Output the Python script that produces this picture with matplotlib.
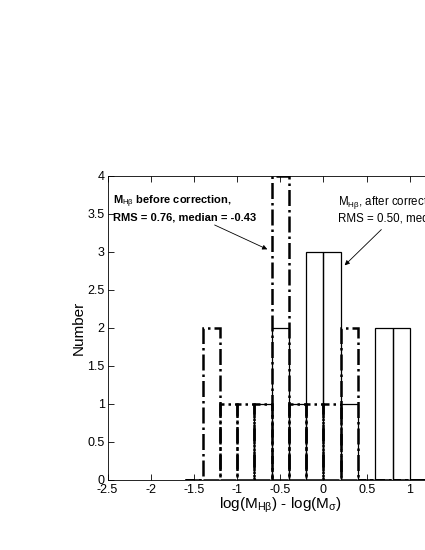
"""Histogram of log(M_Hb) - log(M_sigma) before and after correction."""

import matplotlib.pyplot as plt
import numpy as np

plt.rcParams.update(
    {
        "font.family": ["Liberation Sans", "DejaVu Sans"],
        "mathtext.fontset": "custom",
        "mathtext.rm": "Liberation Sans",
        "mathtext.it": "Liberation Sans",
        "mathtext.bf": "Liberation Sans:bold",
    }
)

# bin centres (width 0.2) and counts
BIN_CENTERS = [-1.5, -1.3, -1.1, -0.9, -0.7, -0.5, -0.3, -0.1, 0.1, 0.3, 0.5, 0.7, 0.9, 1.1, 1.3]
COUNTS_BEFORE = [0, 2, 1, 1, 1, 4, 1, 1, 1, 2, 0, 0, 0, 0, 0]
COUNTS_AFTER = [0, 0, 0, 0, 1, 2, 1, 3, 3, 1, 0, 2, 2, 0, 0]
BIN_WIDTH = 0.2

X_TICKS = [-2.5, -2, -1.5, -1, -0.5, 0, 0.5, 1]
X_TICK_LABELS = ["-2.5", "-2", "-1.5", "-1", "-0.5", "0", "0.5", "1"]
Y_TICKS = [0, 0.5, 1, 1.5, 2, 2.5, 3, 3.5, 4]
Y_TICK_LABELS = ["0", "0.5", "1", "1.5", "2", "2.5", "3", "3.5", "4"]


def main() -> None:
    fig = plt.figure(figsize=(4.25, 5.5), dpi=100)
    fig.patch.set_facecolor("white")
    ax = fig.add_axes([0.253, 0.1273, 0.813, 0.5536])

    ax.bar(
        BIN_CENTERS,
        COUNTS_BEFORE,
        width=BIN_WIDTH,
        fill=False,
        edgecolor="black",
        linewidth=1.8,
        linestyle="-.",
        zorder=2,
    )
    ax.bar(
        BIN_CENTERS,
        COUNTS_AFTER,
        width=BIN_WIDTH,
        fill=False,
        edgecolor="black",
        linewidth=0.9,
        linestyle="-",
        zorder=3,
    )

    ax.set_xlim(-2.5, 1.5)
    ax.set_ylim(0, 4)
    ax.set_xticks(X_TICKS)
    ax.set_xticklabels(X_TICK_LABELS)
    ax.set_yticks(Y_TICKS)
    ax.set_yticklabels(Y_TICK_LABELS)
    ax.tick_params(direction="in", length=4, width=0.6, labelsize=9,
                   top=True, right=True, pad=2)
    ax.tick_params(axis="x", pad=3)
    for spine in ax.spines.values():
        spine.set_linewidth(0.6)

    ax.set_ylabel("Number", fontsize=11, labelpad=1)
    ax.set_xlabel(r"log(M$_{\mathrm{H\beta}}$) - log(M$_{\sigma}$)", fontsize=11, labelpad=0)

    ax.text(-2.44, 3.65, r"M$_{\mathrm{H\beta}}$ before correction,", fontsize=8,
            weight="bold", va="center", ha="left")
    ax.text(-2.44, 3.45, "RMS = 0.76, median = -0.43", fontsize=8,
            weight="bold", va="center", ha="left")
    ax.annotate("", xy=(-0.65, 3.03), xytext=(-1.26, 3.35),
                arrowprops=dict(arrowstyle="-|>", color="black", lw=0.6,
                                mutation_scale=7, shrinkA=0, shrinkB=0))

    ax.text(0.165, 3.64, r"M$_{\mathrm{H\beta}}$, after correction,", fontsize=8.3,
            va="center", ha="left")
    ax.text(0.165, 3.44, "RMS = 0.50, median = 0.01", fontsize=8.3,
            va="center", ha="left")
    ax.annotate("", xy=(0.245, 2.82), xytext=(0.67, 3.29),
                arrowprops=dict(arrowstyle="-|>", color="black", lw=0.6,
                                mutation_scale=7, shrinkA=0, shrinkB=0))

    fig.savefig("out.png", dpi=100, facecolor="white")
    plt.close(fig)


if __name__ == "__main__":
    main()
